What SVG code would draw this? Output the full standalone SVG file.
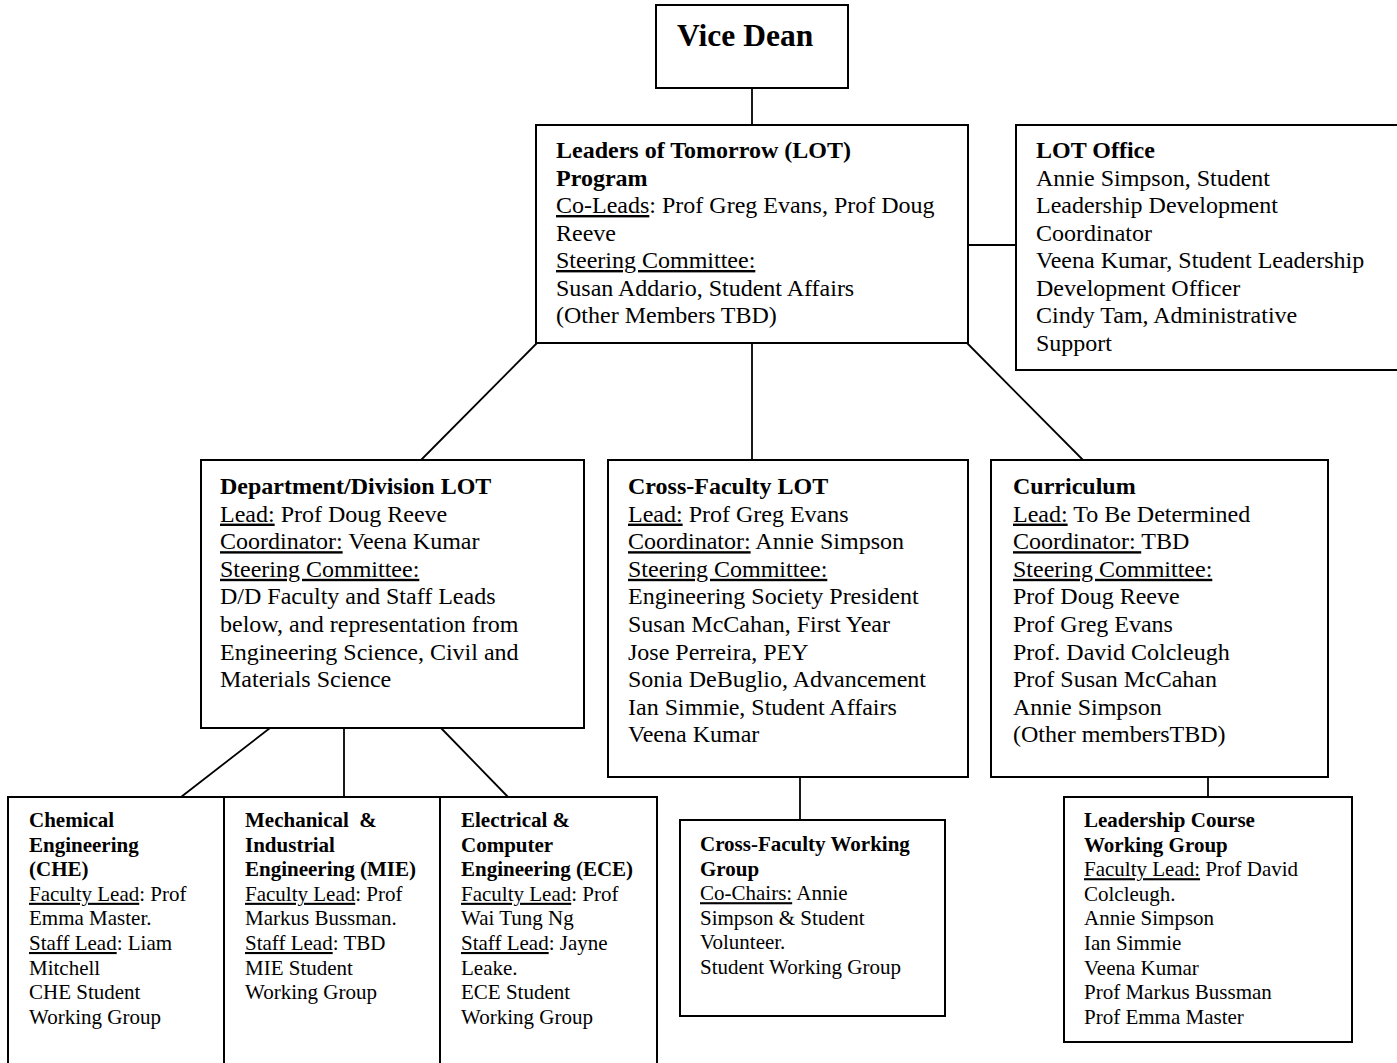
<svg xmlns="http://www.w3.org/2000/svg" width="1397" height="1063" viewBox="0 0 1397 1063">
<style>
.box{fill:#fff;stroke:#000;stroke-width:2}
.ln{stroke:#000;stroke-width:1.8;fill:none}
text{font-family:"Liberation Serif","Times New Roman",serif;fill:#000}
.m{font-size:24px}
.s{font-size:21px}
.b{font-weight:bold}
.u{text-decoration:underline}
</style>
<rect width="1397" height="1063" fill="#fff"/>
<g id="connectors">
<line class="ln" x1="752" y1="88" x2="752" y2="125"/>
<line class="ln" x1="968" y1="245" x2="1016" y2="245"/>
<line class="ln" x1="537" y1="343" x2="421" y2="460"/>
<line class="ln" x1="752" y1="343" x2="752" y2="460"/>
<line class="ln" x1="967" y1="343" x2="1083" y2="460"/>
<line class="ln" x1="270" y1="728" x2="181" y2="797"/>
<line class="ln" x1="344" y1="728" x2="344" y2="797"/>
<line class="ln" x1="441" y1="728" x2="508" y2="797"/>
<line class="ln" x1="800" y1="777" x2="800" y2="820"/>
<line class="ln" x1="1208" y1="777" x2="1208" y2="797"/>
</g>
<g id="vice-dean">
<rect class="box" x="656" y="5" width="192" height="83"/>
<text x="677" y="46" font-size="31.5" font-weight="bold">Vice Dean</text>
</g>
<g id="lot-program">
<rect class="box" x="536" y="125" width="432" height="218"/>
<text class="m" x="556" y="158">
<tspan class="b" x="556">Leaders of Tomorrow (LOT)</tspan>
<tspan class="b" x="556" dy="27.5">Program</tspan>
<tspan x="556" dy="27.5"><tspan class="u">Co-Leads</tspan>: Prof Greg Evans, Prof Doug</tspan>
<tspan x="556" dy="27.5">Reeve</tspan>
<tspan class="u" x="556" dy="27.5">Steering Committee:</tspan>
<tspan x="556" dy="27.5">Susan Addario, Student Affairs</tspan>
<tspan x="556" dy="27.5">(Other Members TBD)</tspan>
</text>
</g>
<g id="lot-office">
<rect class="box" x="1016" y="125" width="390" height="245"/>
<text class="m" x="1036" y="158">
<tspan class="b" x="1036">LOT Office</tspan>
<tspan x="1036" dy="27.5">Annie Simpson, Student</tspan>
<tspan x="1036" dy="27.5">Leadership Development</tspan>
<tspan x="1036" dy="27.5">Coordinator</tspan>
<tspan x="1036" dy="27.5">Veena Kumar, Student Leadership</tspan>
<tspan x="1036" dy="27.5">Development Officer</tspan>
<tspan x="1036" dy="27.5">Cindy Tam, Administrative</tspan>
<tspan x="1036" dy="27.5">Support</tspan>
</text>
</g>
<g id="dept-division">
<rect class="box" x="201" y="460" width="383" height="268"/>
<text class="m" x="220" y="494">
<tspan class="b" x="220">Department/Division LOT</tspan>
<tspan x="220" dy="27.6"><tspan class="u">Lead:</tspan> Prof Doug Reeve</tspan>
<tspan x="220" dy="27.6"><tspan class="u">Coordinator:</tspan> Veena Kumar</tspan>
<tspan class="u" x="220" dy="27.6">Steering Committee:</tspan>
<tspan x="220" dy="27.6">D/D Faculty and Staff Leads</tspan>
<tspan x="220" dy="27.6">below, and representation from</tspan>
<tspan x="220" dy="27.6">Engineering Science, Civil and</tspan>
<tspan x="220" dy="27.6">Materials Science</tspan>
</text>
</g>
<g id="cross-faculty-lot">
<rect class="box" x="608" y="460" width="360" height="317"/>
<text class="m" x="628" y="494">
<tspan class="b" x="628">Cross-Faculty LOT</tspan>
<tspan x="628" dy="27.6"><tspan class="u">Lead:</tspan> Prof Greg Evans</tspan>
<tspan x="628" dy="27.6"><tspan class="u">Coordinator:</tspan> Annie Simpson</tspan>
<tspan class="u" x="628" dy="27.6">Steering Committee:</tspan>
<tspan x="628" dy="27.6">Engineering Society President</tspan>
<tspan x="628" dy="27.6">Susan McCahan, First Year</tspan>
<tspan x="628" dy="27.6">Jose Perreira, PEY</tspan>
<tspan x="628" dy="27.6">Sonia DeBuglio, Advancement</tspan>
<tspan x="628" dy="27.6">Ian Simmie, Student Affairs</tspan>
<tspan x="628" dy="27.6">Veena Kumar</tspan>
</text>
</g>
<g id="curriculum">
<rect class="box" x="991" y="460" width="337" height="317"/>
<text class="m" x="1013" y="494">
<tspan class="b" x="1013">Curriculum</tspan>
<tspan x="1013" dy="27.6"><tspan class="u">Lead:</tspan> To Be Determined</tspan>
<tspan x="1013" dy="27.6"><tspan class="u">Coordinator: </tspan>TBD</tspan>
<tspan class="u" x="1013" dy="27.6">Steering Committee:</tspan>
<tspan x="1013" dy="27.6">Prof Doug Reeve</tspan>
<tspan x="1013" dy="27.6">Prof Greg Evans</tspan>
<tspan x="1013" dy="27.6">Prof. David Colcleugh</tspan>
<tspan x="1013" dy="27.6">Prof Susan McCahan</tspan>
<tspan x="1013" dy="27.6">Annie Simpson</tspan>
<tspan x="1013" dy="27.6">(Other membersTBD)</tspan>
</text>
</g>
<g id="che">
<rect class="box" x="8" y="797" width="216" height="280"/>
<text class="s" x="29" y="827">
<tspan class="b" x="29">Chemical</tspan>
<tspan class="b" x="29" dy="24.6">Engineering</tspan>
<tspan class="b" x="29" dy="24.6">(CHE)</tspan>
<tspan x="29" dy="24.6"><tspan class="u">Faculty Lead</tspan>: Prof</tspan>
<tspan x="29" dy="24.6">Emma Master.</tspan>
<tspan x="29" dy="24.6"><tspan class="u">Staff Lead</tspan>: Liam</tspan>
<tspan x="29" dy="24.6">Mitchell</tspan>
<tspan x="29" dy="24.6">CHE Student</tspan>
<tspan x="29" dy="24.6">Working Group</tspan>
</text>
</g>
<g id="mie">
<rect class="box" x="224" y="797" width="216" height="280"/>
<text class="s" x="245" y="827" xml:space="preserve"><tspan class="b" x="245">Mechanical  &amp;</tspan><tspan class="b" x="245" dy="24.6">Industrial</tspan><tspan class="b" x="245" dy="24.6">Engineering (MIE)</tspan><tspan x="245" dy="24.6"><tspan class="u">Faculty Lead</tspan>: Prof</tspan><tspan x="245" dy="24.6">Markus Bussman.</tspan><tspan x="245" dy="24.6"><tspan class="u">Staff Lead</tspan>: TBD</tspan><tspan x="245" dy="24.6">MIE Student</tspan><tspan x="245" dy="24.6">Working Group</tspan></text>
</g>
<g id="ece">
<rect class="box" x="440" y="797" width="217" height="280"/>
<text class="s" x="461" y="827">
<tspan class="b" x="461">Electrical &amp;</tspan>
<tspan class="b" x="461" dy="24.6">Computer</tspan>
<tspan class="b" x="461" dy="24.6">Engineering (ECE)</tspan>
<tspan x="461" dy="24.6"><tspan class="u">Faculty Lead</tspan>: Prof</tspan>
<tspan x="461" dy="24.6">Wai Tung Ng</tspan>
<tspan x="461" dy="24.6"><tspan class="u">Staff Lead</tspan>: Jayne</tspan>
<tspan x="461" dy="24.6">Leake.</tspan>
<tspan x="461" dy="24.6">ECE Student</tspan>
<tspan x="461" dy="24.6">Working Group</tspan>
</text>
</g>
<g id="cross-faculty-working-group">
<rect class="box" x="680" y="820" width="265" height="196"/>
<text class="s" x="700" y="851">
<tspan class="b" x="700">Cross-Faculty Working</tspan>
<tspan class="b" x="700" dy="24.6">Group</tspan>
<tspan x="700" dy="24.6"><tspan class="u">Co-Chairs:</tspan> Annie</tspan>
<tspan x="700" dy="24.6">Simpson &amp; Student</tspan>
<tspan x="700" dy="24.6">Volunteer.</tspan>
<tspan x="700" dy="24.6">Student Working Group</tspan>
</text>
</g>
<g id="leadership-course-working-group">
<rect class="box" x="1064" y="797" width="288" height="245"/>
<text class="s" x="1084" y="827">
<tspan class="b" x="1084">Leadership Course</tspan>
<tspan class="b" x="1084" dy="24.6">Working Group</tspan>
<tspan x="1084" dy="24.6"><tspan class="u">Faculty Lead:</tspan> Prof David</tspan>
<tspan x="1084" dy="24.6">Colcleugh.</tspan>
<tspan x="1084" dy="24.6">Annie Simpson</tspan>
<tspan x="1084" dy="24.6">Ian Simmie</tspan>
<tspan x="1084" dy="24.6">Veena Kumar</tspan>
<tspan x="1084" dy="24.6">Prof Markus Bussman</tspan>
<tspan x="1084" dy="24.6">Prof Emma Master</tspan>
</text>
</g>
</svg>
